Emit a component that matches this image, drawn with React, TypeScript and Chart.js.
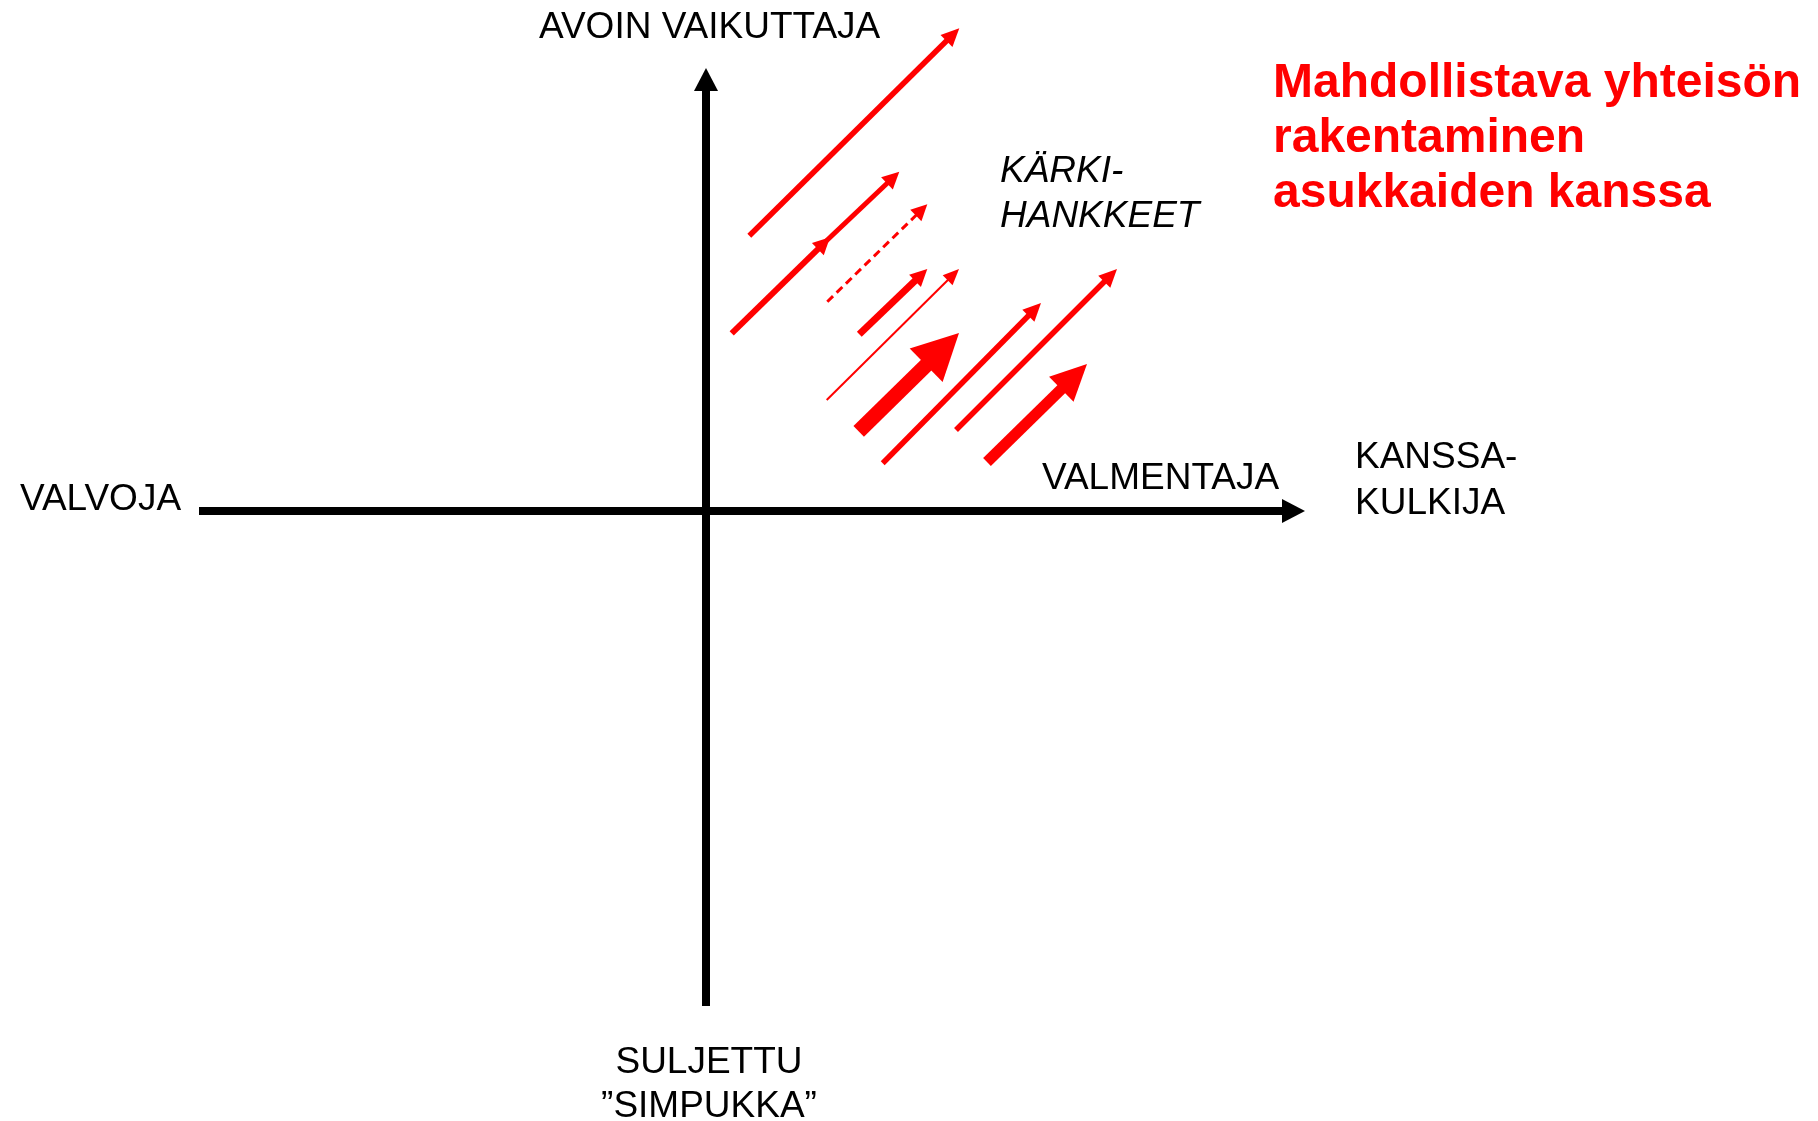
import React, { useEffect, useRef } from "react";
import { Chart, registerables } from "chart.js";

Chart.register(...registerables);

// ---------- DATA (diagram units; origin = crossing of the two axes) ----------
const axisTails = [
  [-10.14, 0],
  [0, -9.9],
];
const axisTips = [
  [11.98, 0],
  [0, 8.86],
];

const arrowTails = [
  [0.866, 5.506],
  [0.514, 3.554],
  [2.32, 5.32],
  [2.426, 4.186],
  [3.066, 3.534],
  [2.414, 2.22],
  [3.054, 1.594],
  [3.534, 0.954],
  [5.0, 1.62],
  [5.62, 0.98],
];
const arrowTips = [
  [5.066, 9.654],
  [2.48, 5.474],
  [3.866, 6.786],
  [4.426, 6.134],
  [4.426, 4.84],
  [5.06, 4.84],
  [5.06, 3.56],
  [6.7, 4.16],
  [8.22, 4.84],
  [7.62, 2.94],
];

const labelTop = ["AVOIN VAIKUTTAJA"];
const labelBottom = ["SULJETTU", "\u201DSIMPUKKA\u201D"];
const labelLeft = ["VALVOJA"];
const labelRightNear = ["VALMENTAJA"];
const labelRightFar = ["KANSSA-", "KULKIJA"];
const labelQuadrant = ["KÄRKI-", "HANKKEET"];
const titleLines = ["Mahdollistava yhteisön", "rakentaminen", "asukkaiden kanssa"];

// ---------- STYLES ----------
const W = 1818;
const H = 1121;
const RED = "#FF0000";
const BLACK = "#000000";
// [lineWidth, headLength, headWidth, dashed]
const axisStyles = [
  [8, 23, 24, false],
  [8, 23, 24, false],
];
const arrowStyles = [
  [5.5, 18, 17, false],
  [6, 17, 17, false],
  [5, 17, 17, false],
  [3, 16, 16, true],
  [7, 17, 17, false],
  [2, 16, 14, false],
  [15, 46, 47, false],
  [5.5, 18, 17, false],
  [5.5, 18, 17, false],
  [11, 36, 35, false],
];

function makeDataset(tail: number[], tip: number[], style: any[], color: string) {
  return {
    data: [
      { x: tail[0], y: tail[1] },
      { x: tip[0], y: tip[1] },
    ],
    showLine: true,
    borderColor: color,
    backgroundColor: color,
    borderWidth: style[0],
    borderDash: style[3] ? [8, 5] : [],
    borderCapStyle: "butt",
    pointRadius: 0,
    pointHoverRadius: 0,
    tension: 0,
    fill: false,
    headLength: style[1],
    headWidth: style[2],
  } as any;
}

function geom(chart: any, index: number) {
  const ds: any = chart.data.datasets[index];
  const meta = chart.getDatasetMeta(index);
  if (!meta || !meta.data || meta.data.length < 2) return null;
  const a = meta.data[0];
  const b = meta.data[1];
  const dx = b.x - a.x;
  const dy = b.y - a.y;
  const len = Math.hypot(dx, dy) || 1;
  const ux = dx / len;
  const uy = dy / len;
  const nx = -uy;
  const ny = ux;
  const L = ds.headLength;
  const bx = b.x - ux * L;
  const by = b.y - uy * L;
  return { tx: b.x, ty: b.y, bx, by, ux, uy, nx, ny, L, hw: ds.headWidth / 2, color: ds.borderColor };
}

const arrowHeadPlugin = {
  id: "arrowHeads",
  beforeDatasetDraw(chart: any, args: any) {
    const g = geom(chart, args.index);
    if (!g) return;
    const ctx = chart.ctx;
    ctx.save();
    ctx.beginPath();
    ctx.rect(0, 0, chart.width, chart.height);
    const sx = g.bx + g.ux * 1.5;
    const sy = g.by + g.uy * 1.5;
    const R = 200;
    ctx.moveTo(sx + g.nx * R, sy + g.ny * R);
    ctx.lineTo(sx + g.nx * R + g.ux * R, sy + g.ny * R + g.uy * R);
    ctx.lineTo(sx - g.nx * R + g.ux * R, sy - g.ny * R + g.uy * R);
    ctx.lineTo(sx - g.nx * R, sy - g.ny * R);
    ctx.closePath();
    ctx.clip("evenodd");
  },
  afterDatasetDraw(chart: any, args: any) {
    const g = geom(chart, args.index);
    if (!g) return;
    const ctx = chart.ctx;
    ctx.restore();
    ctx.save();
    ctx.fillStyle = g.color;
    ctx.beginPath();
    ctx.moveTo(g.tx, g.ty);
    ctx.lineTo(g.bx + g.nx * g.hw, g.by + g.ny * g.hw);
    ctx.lineTo(g.bx - g.nx * g.hw, g.by - g.ny * g.hw);
    ctx.closePath();
    ctx.fill();
    ctx.restore();
  },
};

const FONT = "'Liberation Sans', Arial, Helvetica, sans-serif";

const textPlugin = {
  id: "diagramText",
  afterDraw(chart: any) {
    const ctx = chart.ctx;
    ctx.save();
    ctx.textBaseline = "alphabetic";
    ctx.fillStyle = BLACK;
    ctx.font = `37px ${FONT}`;
    ctx.textAlign = "left";
    ctx.fillText(labelTop[0], 539, 38);
    ctx.fillText(labelLeft[0], 20, 510);
    ctx.fillText(labelRightNear[0], 1042, 489);
    ctx.fillText(labelRightFar[0], 1355, 468);
    ctx.fillText(labelRightFar[1], 1355, 514);
    ctx.textAlign = "center";
    ctx.fillText(labelBottom[0], 709, 1073);
    ctx.fillText(labelBottom[1], 709, 1117);
    ctx.textAlign = "left";
    ctx.font = `italic 37px ${FONT}`;
    ctx.fillText(labelQuadrant[0], 1000, 182);
    ctx.fillText(labelQuadrant[1], 1000, 227);
    ctx.fillStyle = RED;
    ctx.font = `bold 48px ${FONT}`;
    ctx.fillText(titleLines[0], 1273, 97);
    ctx.fillText(titleLines[1], 1273, 152);
    ctx.fillText(titleLines[2], 1273, 207);
    ctx.restore();
  },
};

export default function App() {
  const ref = useRef<HTMLCanvasElement | null>(null);
  useEffect(() => {
    document.body.style.margin = "0";
    const canvas = ref.current;
    if (!canvas) return;
    const ox = 706;
    const oy = 511;
    const unit = 50;
    const datasets: any[] = [];
    axisTails.forEach((t, i) => datasets.push(makeDataset(t, axisTips[i], axisStyles[i], BLACK)));
    arrowTails.forEach((t, i) => datasets.push(makeDataset(t, arrowTips[i], arrowStyles[i], RED)));
    const chart = new Chart(canvas, {
      type: "scatter",
      data: { datasets },
      options: {
        animation: false,
        responsive: false,
        devicePixelRatio: 1,
        events: [],
        layout: { padding: 0 },
        plugins: { legend: { display: false }, tooltip: { enabled: false } },
        scales: {
          x: { type: "linear", display: false, min: -ox / unit, max: (W - ox) / unit },
          y: { type: "linear", display: false, min: -(H - oy) / unit, max: oy / unit },
        },
      } as any,
      plugins: [arrowHeadPlugin, textPlugin],
    });
    return () => chart.destroy();
  }, []);
  return (
    <div style={{ width: W, height: H, background: "#fff" }}>
      <canvas ref={ref} width={W} height={H} style={{ display: "block" }} />
    </div>
  );
}
